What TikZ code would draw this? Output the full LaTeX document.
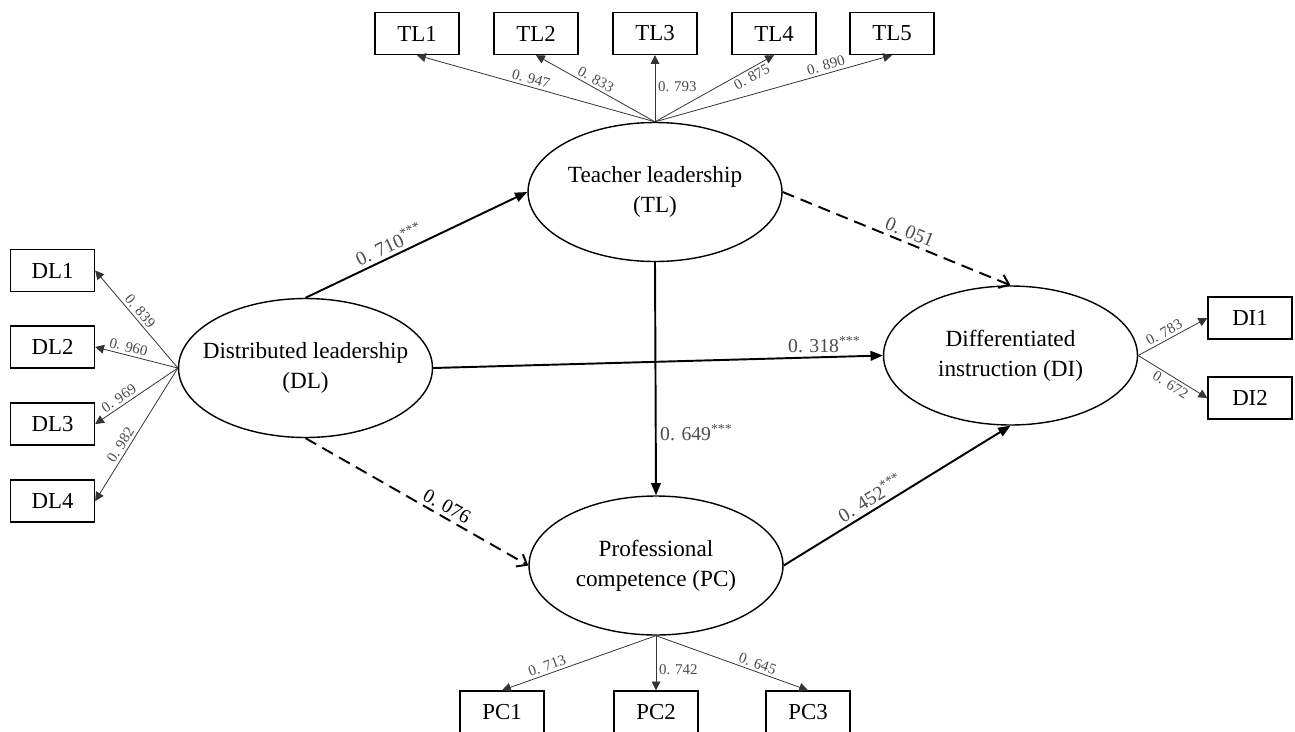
\documentclass[tikz,border=0pt]{standalone}
\usepackage{fontspec}
\setmainfont{Liberation Serif}
\usetikzlibrary{shapes.geometric,arrows.meta}
\begin{document}
\begin{tikzpicture}[x=0.02cm,y=-0.02cm,
 latent/.style={ellipse,draw,line width=0.8pt,minimum width=5.08cm,minimum height=2.78cm,inner sep=0pt},
 lattext/.style={align=center,font=\fontsize{13.2}{17}\selectfont,inner sep=0pt},
 obs/.style={rectangle,draw,line width=0.8pt,minimum width=1.68cm,minimum height=0.84cm,inner sep=0pt,font=\fontsize{13}{15}\selectfont},
 load/.style={line width=0.45pt,black!80,-{Triangle[length=5pt,width=5pt]}},
 loadlab/.style={font=\fontsize{8.5}{10}\selectfont,text=black!70,inner sep=1.5pt},
 spath/.style={line width=1.1pt,-{Triangle[length=7pt,width=5.5pt]}},
 dpath/.style={line width=1.1pt,dash pattern=on 7pt off 4pt,-{Straight Barb[length=5pt,width=8pt]}},
 pathlab/.style={font=\fontsize{11.2}{13}\selectfont,text=black!70,inner sep=2pt},
]
\fill[white] (0,0) rectangle (1295,731);
\useasboundingbox (0,0) rectangle (1295,731);

% latent variables (fixed-size ellipses, text as centred labels)
\node[latent,label={[name=TLt,lattext]center:Teacher leadership\\(TL)}] (TL) at (655,192) {};
\node[latent,label={[name=DLt,lattext]center:Distributed leadership\\(DL)}] (DL) at (305.5,368) {};
\node[latent,label={[name=DIt,lattext]center:Differentiated\\instruction (DI)}] (DI) at (1010.5,355.5) {};
\node[latent,label={[name=PCt,lattext]center:Professional\\competence (PC)}] (PC) at (656,565.5) {};

% indicators
\node[obs] (TL1) at (417,33.5) {TL1};
\node[obs] (TL2) at (536,33.5) {TL2};
\node[obs] (TL3) at (655,33.5) {TL3};
\node[obs] (TL4) at (774,33.5) {TL4};
\node[obs] (TL5) at (892,33.5) {TL5};

\node[obs] (DL1) at (52.5,270.5) {DL1};
\node[obs] (DL2) at (52.5,347) {DL2};
\node[obs] (DL3) at (52.5,424) {DL3};
\node[obs] (DL4) at (52.5,501) {DL4};

\node[obs] (DI1) at (1250,318) {DI1};
\node[obs] (DI2) at (1250,398) {DI2};

\node[obs] (PC1) at (502,712) {PC1};
\node[obs] (PC2) at (656,712) {PC2};
\node[obs] (PC3) at (808,712) {PC3};

% loadings TL
\draw[load] (TL.north) -- node[loadlab,sloped,above,pos=0.53]{0. 947} (TL1.south);
\draw[load] (TL.north) -- node[loadlab,sloped,above,pos=0.53]{0. 833} (TL2.south);
\draw[load] (TL.north) -- node[loadlab,anchor=west,pos=0.53]{0. 793} (TL3.south);
\draw[load] (TL.north) -- node[loadlab,sloped,below,pos=0.78]{0. 875} (TL4.south);
\draw[load] (TL.north) -- node[loadlab,sloped,above,pos=0.73]{0. 890} (TL5.south);

% loadings DL
\draw[load] (DL.west) -- node[loadlab,sloped,above,pos=0.53]{0. 839} (DL1.east);
\draw[load] (DL.west) -- node[loadlab,sloped,above,pos=0.62]{0. 960} (DL2.east);
\draw[load] (DL.west) -- node[loadlab,sloped,above,pos=0.66]{0. 969} (DL3.east);
\draw[load] (DL.west) -- node[loadlab,sloped,above,pos=0.61]{0. 982} (DL4.east);

% loadings DI
\draw[load] (DI.east) -- node[loadlab,sloped,above,pos=0.43]{0. 783} (DI1.west);
\draw[load] (DI.east) -- node[loadlab,sloped,below,pos=0.53]{0. 672} (DI2.west);

% loadings PC
\draw[load] (PC.south) -- node[loadlab,sloped,above,pos=0.69]{0. 713} (PC1.north);
\draw[load] (PC.south) -- node[loadlab,anchor=west,pos=0.62]{0. 742} (PC2.north);
\draw[load] (PC.south) -- node[loadlab,sloped,above,pos=0.65]{0. 645} (PC3.north);

% structural paths
\draw[spath] (DL.north) -- node[pathlab,sloped,above,pos=0.4]{0. 710\textsuperscript{***}} (TL.west);
\draw[dpath] (TL.east) -- node[pathlab,sloped,above,pos=0.54]{0. 051} (DI.north);
\draw[spath] (DL.east) -- node[pathlab,above,pos=0.87]{0. 318\textsuperscript{***}} (DI.west);
\draw[spath] (TL.south) -- node[pathlab,anchor=west,pos=0.73]{0. 649\textsuperscript{***}} (PC.north);
\draw[dpath] (DL.south) -- node[pathlab,sloped,above,pos=0.61,text=black]{0. 076} (PC.west);
\draw[spath] (PC.east) -- node[pathlab,sloped,above,pos=0.41]{0. 452\textsuperscript{***}} (DI.south);
\end{tikzpicture}
\end{document}
